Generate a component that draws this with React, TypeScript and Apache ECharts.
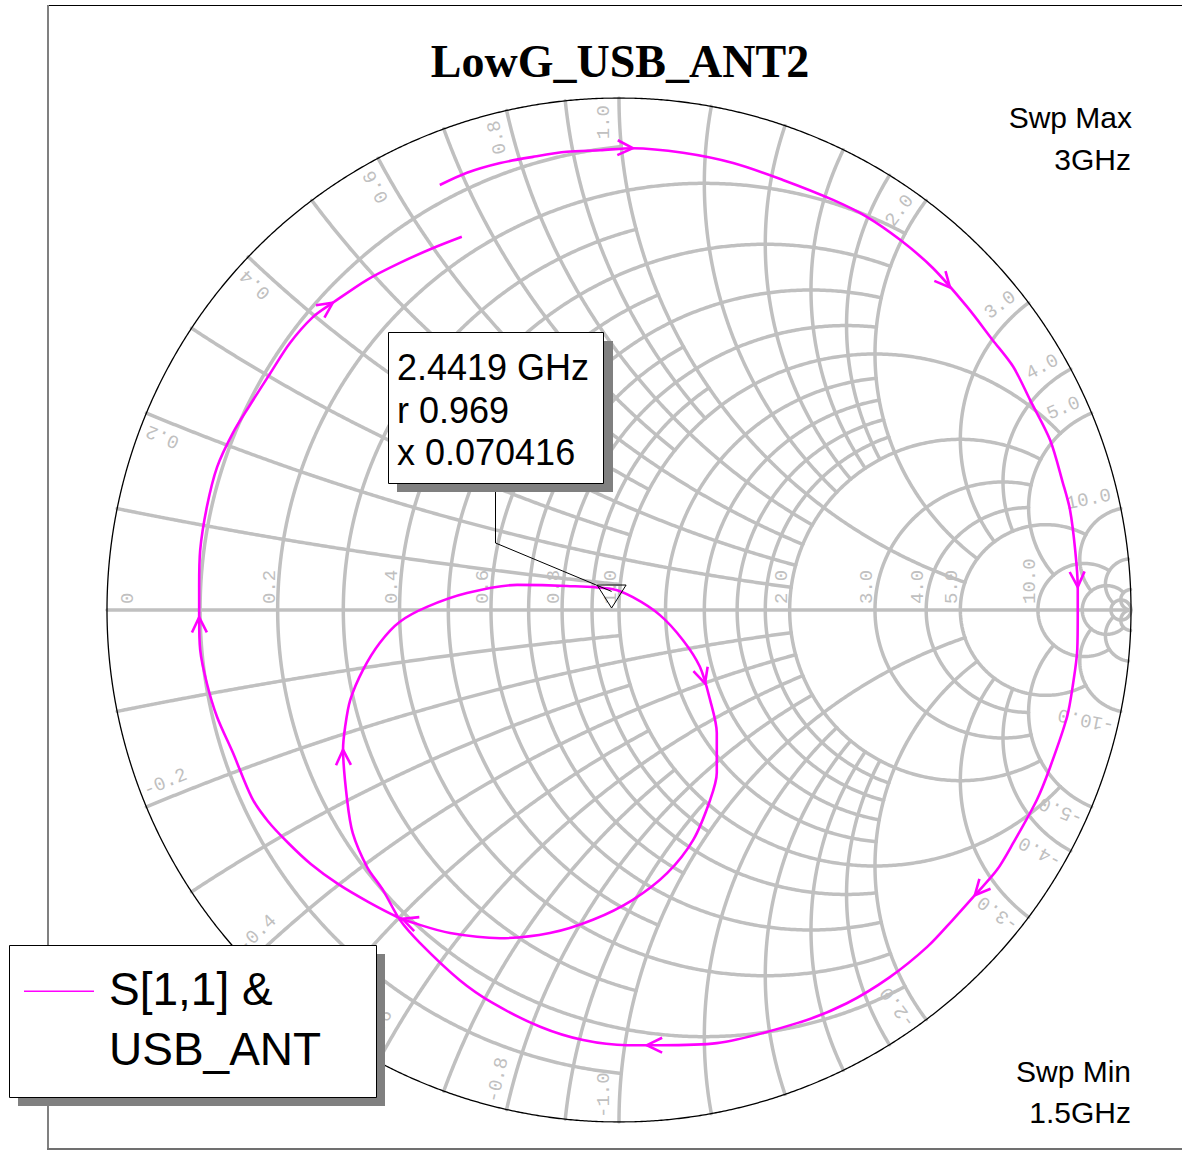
import React, { useEffect, useRef } from "react";
import * as echarts from "echarts";

// S11 trace (reflection coefficient, real / imaginary), sweep 1.5 GHz -> 3 GHz
const S11_RE = [
  -0.350, -0.297, -0.232, -0.168, -0.102, -0.037, 0.027, 0.125, 0.223, 0.320,
  0.418, 0.484, 0.549, 0.613, 0.680, 0.730, 0.770, 0.803, 0.842, 0.867,
  0.881, 0.891, 0.896, 0.896, 0.895, 0.887, 0.875, 0.842, 0.816, 0.770,
  0.738, 0.695, 0.652, 0.602, 0.529, 0.445, 0.354, 0.191, 0.080, 0.016,
  -0.070, -0.154, -0.246, -0.311, -0.389, -0.428, -0.461, -0.492, -0.520, -0.531,
  -0.539, -0.535, -0.525, -0.500, -0.467, -0.428, -0.375, -0.297, -0.199, -0.102,
  -0.014, 0.027, 0.080, 0.125, 0.158, 0.178, 0.191, 0.191, 0.178, 0.145,
  0.094, 0.027, -0.051, -0.135, -0.232, -0.330, -0.402, -0.432, -0.490, -0.549,
  -0.602, -0.646, -0.686, -0.717, -0.754, -0.785, -0.805, -0.818, -0.820, -0.820,
  -0.818, -0.805, -0.785, -0.754, -0.721, -0.682, -0.643, -0.598, -0.559, -0.492,
  -0.428, -0.363, -0.307,
];
const S11_IM = [
  0.830, 0.854, 0.873, 0.885, 0.895, 0.898, 0.902, 0.893, 0.873, 0.840,
  0.801, 0.768, 0.723, 0.668, 0.592, 0.527, 0.475, 0.410, 0.332, 0.248,
  0.195, 0.117, 0.045, -0.006, -0.078, -0.143, -0.209, -0.307, -0.371, -0.455,
  -0.508, -0.557, -0.605, -0.658, -0.717, -0.768, -0.805, -0.846, -0.850, -0.850,
  -0.840, -0.814, -0.768, -0.723, -0.650, -0.605, -0.547, -0.502, -0.436, -0.371,
  -0.273, -0.229, -0.176, -0.117, -0.064, -0.023, 0.006, 0.033, 0.049, 0.047,
  0.041, 0.025, -0.010, -0.059, -0.111, -0.176, -0.240, -0.318, -0.371, -0.449,
  -0.514, -0.566, -0.605, -0.631, -0.641, -0.631, -0.611, -0.600, -0.570, -0.535,
  -0.496, -0.455, -0.412, -0.367, -0.279, -0.209, -0.143, -0.078, -0.014, 0.045,
  0.117, 0.201, 0.279, 0.346, 0.400, 0.461, 0.521, 0.572, 0.600, 0.645,
  0.678, 0.707, 0.729,
];

// positions (fractional point index along the trace) of the direction arrows
const ARROW_POS = [6, 13.5, 22, 31, 38.4, 50, 64.5, 76.7, 88, 98];

// marker
const MARKER_FREQ = "2.4419 GHz";
const MARKER_R = 0.969;
const MARKER_X = 0.070416;

// Smith grid: normalized values and how far each line runs (|x| limit for r circles, r limit for x arcs)
const GRID_VALUES = [0.1, 0.2, 0.3, 0.4, 0.5, 0.6, 0.7, 0.8, 0.9, 1, 1.2, 1.4, 1.6, 1.8, 2, 3, 4, 5, 10, 20, 50];
const GRID_LIMITS = [1, 2, 1, 2, 1, 2, 1, 2, 1, 5, 2, 2, 2, 2, 5, 5, 5, 10, 20, 50, Infinity];

// grid labels
const REAL_LABEL_VALUES = [0, 0.2, 0.4, 0.6, 0.8, 1, 2, 3, 4, 5, 10];
const REAL_LABEL_TEXT = ["0", "0.2", "0.4", "0.6", "0.8", "1.0", "2.0", "3.0", "4.0", "5.0", "10.0"];
const RIM_LABEL_VALUES = [0.2, 0.4, 0.6, 0.8, 1, 2, 3, 4, 5, 10];
const RIM_LABEL_TEXT = ["0.2", "0.4", "0.6", "0.8", "1.0", "2.0", "3.0", "4.0", "5.0", "10.0"];

const TITLE = "LowG_USB_ANT2";
const LEGEND_TEXT = ["S[1,1] &", "USB_ANT"];
const SWEEP_MAX = ["Swp Max", "3GHz"];
const SWEEP_MIN = ["Swp Min", "1.5GHz"];

const GRID_COLOR = "#c0c0c0";
const TRACE_COLOR = "#ff00ff";

function gammaOf(r: number, x: number): number[] {
  const d = (r + 1) * (r + 1) + x * x;
  return [(r * r + x * x - 1) / d, (2 * x) / d];
}

function resistanceCircle(r: number, lim: number): number[][] {
  const c = r / (1 + r);
  const rho = 1 / (1 + r);
  let t0 = 0;
  if (isFinite(lim)) {
    const p = gammaOf(r, lim);
    t0 = Math.atan2(p[1], p[0] - c);
  }
  const span = 2 * Math.PI - 2 * t0;
  const n = Math.max(16, Math.ceil(span * rho * 260));
  const pts: number[][] = [];
  for (let i = 0; i <= n; i++) {
    const t = t0 + (span * i) / n;
    pts.push([c + rho * Math.cos(t), rho * Math.sin(t)]);
  }
  return pts;
}

function reactanceArc(x: number, lim: number): number[][] {
  const cx = 1;
  const cy = 1 / x;
  const rho = 1 / x;
  const norm = (a: number) => (a < 0 ? a + 2 * Math.PI : a);
  const A = gammaOf(0, x);
  const B = isFinite(lim) ? gammaOf(lim, x) : [1, 0];
  const a0 = norm(Math.atan2(A[1] - cy, A[0] - cx));
  const a1 = norm(Math.atan2(B[1] - cy, B[0] - cx));
  const span = a1 - a0;
  const n = Math.max(12, Math.ceil(Math.abs(span) * rho * 260));
  const pts: number[][] = [];
  for (let i = 0; i <= n; i++) {
    const t = a0 + (span * i) / n;
    pts.push([cx + rho * Math.cos(t), cy + rho * Math.sin(t)]);
  }
  return pts;
}

type LabelItem = { kind: "real" | "pos" | "neg"; value: number; text: string; g: number[] };

const LABEL_ITEMS: LabelItem[] = [
  ...REAL_LABEL_VALUES.map((v, i) => ({ kind: "real" as const, value: v, text: REAL_LABEL_TEXT[i], g: gammaOf(v, 0) })),
  ...RIM_LABEL_VALUES.map((v, i) => ({ kind: "pos" as const, value: v, text: RIM_LABEL_TEXT[i], g: gammaOf(0, v) })),
  ...RIM_LABEL_VALUES.map((v, i) => ({ kind: "neg" as const, value: -v, text: "-" + RIM_LABEL_TEXT[i], g: gammaOf(0, -v) })),
];

function buildOption(): any {
  const series: any[] = [];
  const addLine = (pts: number[][], color: string, width: number, z: number) => {
    series.push({
      type: "line",
      data: pts,
      symbol: "none",
      showSymbol: false,
      silent: true,
      animation: false,
      z,
      emphasis: { disabled: true },
      lineStyle: { color, width, cap: "round", join: "round" },
    });
  };

  GRID_VALUES.forEach((v, i) => {
    addLine(resistanceCircle(v, GRID_LIMITS[i]), GRID_COLOR, 3.5, 1);
    const arc = reactanceArc(v, GRID_LIMITS[i]);
    addLine(arc, GRID_COLOR, 3.5, 1);
    addLine(arc.map((p) => [p[0], -p[1]]), GRID_COLOR, 3.5, 1);
  });
  addLine([[-1, 0], [1, 0]], GRID_COLOR, 3.5, 1);
  addLine(resistanceCircle(0, Infinity), "#000000", 1.3, 2);

  // grid labels
  series.push({
    type: "custom",
    silent: true,
    z: 3,
    data: LABEL_ITEMS.map((it) => it.g),
    renderItem: (params: any, api: any) => {
      const it = LABEL_ITEMS[params.dataIndex];
      const c = api.coord([0, 0]);
      const p = api.coord(it.g);
      let dx = 0, dy = -1, ax = 0, ay = 0;
      let align = "left";
      if (it.kind === "real") {
        const off = it.value === 0 ? -21 : 8;
        ax = p[0] - off;
        ay = p[1] - 6;
      } else {
        let rx = p[0] - c[0];
        let ry = p[1] - c[1];
        const L = Math.hypot(rx, ry);
        rx /= L;
        ry /= L;
        let inset = 7;
        if (it.kind === "pos") {
          dx = rx; dy = ry; align = "right"; inset = 7;
        } else {
          dx = -rx; dy = -ry; align = "left"; inset = 4;
        }
        const ux = dy, uy = -dx;
        ax = p[0] - rx * inset + ux * 15;
        ay = p[1] - ry * inset + uy * 15;
      }
      return {
        type: "text",
        x: ax,
        y: ay,
        rotation: Math.atan2(-dy, dx),
        style: {
          text: it.text,
          fill: GRID_COLOR,
          font: '19px "Liberation Mono"',
          align,
          verticalAlign: "middle",
        },
      };
    },
  });

  // trace
  series.push({
    type: "line",
    name: "S[1,1] & USB_ANT",
    data: S11_RE.map((v, i) => [v, S11_IM[i]]),
    smooth: 0.3,
    symbol: "none",
    showSymbol: false,
    silent: true,
    z: 10,
    lineStyle: { color: TRACE_COLOR, width: 2.6 },
  });

  // direction arrows
  series.push({
    type: "custom",
    silent: true,
    z: 11,
    data: ARROW_POS.map((a) => {
      const i = Math.floor(a);
      const f = a - i;
      const j = Math.min(i + 1, S11_RE.length - 1);
      return [S11_RE[i] + (S11_RE[j] - S11_RE[i]) * f, S11_IM[i] + (S11_IM[j] - S11_IM[i]) * f];
    }),
    renderItem: (params: any, api: any) => {
      const a = ARROW_POS[params.dataIndex];
      const i = Math.floor(a);
      const f = a - i;
      const n = S11_RE.length;
      const tip = api.coord([api.value(0), api.value(1)]);
      let pa, pb;
      if (f === 0) {
        pa = api.coord([S11_RE[Math.max(i - 1, 0)], S11_IM[Math.max(i - 1, 0)]]);
        pb = api.coord([S11_RE[Math.min(i + 1, n - 1)], S11_IM[Math.min(i + 1, n - 1)]]);
      } else {
        pa = api.coord([S11_RE[i], S11_IM[i]]);
        pb = api.coord([S11_RE[i + 1], S11_IM[i + 1]]);
      }
      let vx = pb[0] - pa[0];
      let vy = pb[1] - pa[1];
      const L = Math.hypot(vx, vy) || 1;
      vx /= L;
      vy /= L;
      const len = 17;
      const ang = (26 * Math.PI) / 180;
      const bx = -vx, by = -vy;
      const w1 = [tip[0] + len * (bx * Math.cos(ang) - by * Math.sin(ang)), tip[1] + len * (bx * Math.sin(ang) + by * Math.cos(ang))];
      const w2 = [tip[0] + len * (bx * Math.cos(-ang) - by * Math.sin(-ang)), tip[1] + len * (bx * Math.sin(-ang) + by * Math.cos(-ang))];
      return {
        type: "polyline",
        shape: { points: [w1, tip, w2] },
        style: { stroke: TRACE_COLOR, lineWidth: 2.6, fill: "none" },
      };
    },
  });

  // marker
  series.push({
    type: "custom",
    silent: true,
    z: 12,
    data: [gammaOf(MARKER_R, MARKER_X)],
    renderItem: (params: any, api: any) => {
      const p = api.coord([api.value(0), api.value(1)]);
      return {
        type: "group",
        children: [
          {
            type: "polyline",
            shape: { points: [[495.5, 483], [495.5, 543], p] },
            style: { stroke: "#000000", lineWidth: 1, fill: "none" },
          },
          {
            type: "polygon",
            shape: { points: [[p[0] - 14.5, p[1] - 6.4], [p[0] + 14.5, p[1] - 6.4], [p[0], p[1] + 16.6]] },
            style: { stroke: "#000000", lineWidth: 1, fill: "none" },
          },
        ],
      };
    },
  });

  const sans = '"Liberation Sans", Arial, sans-serif';
  const graphic: any[] = [
    { type: "line", z: 40, shape: { x1: 48, y1: 5.5, x2: 1182, y2: 5.5 }, style: { stroke: "#000000", lineWidth: 1 } },
    { type: "line", z: 40, shape: { x1: 48, y1: 5, x2: 48, y2: 1149 }, style: { stroke: "#808080", lineWidth: 2 } },
    { type: "line", z: 40, shape: { x1: 47, y1: 1149, x2: 1182, y2: 1149 }, style: { stroke: "#707070", lineWidth: 2 } },
    {
      type: "text", z: 50, x: 620, y: 61,
      style: { text: TITLE, font: 'bold 46px "Liberation Serif", "Times New Roman", serif', fill: "#000000", align: "center", verticalAlign: "middle" },
    },
    { type: "text", z: 50, x: 1132, y: 117.5, style: { text: SWEEP_MAX[0], font: "30px " + sans, fill: "#000", align: "right", verticalAlign: "middle" } },
    { type: "text", z: 50, x: 1131, y: 159.5, style: { text: SWEEP_MAX[1], font: "30px " + sans, fill: "#000", align: "right", verticalAlign: "middle" } },
    { type: "text", z: 50, x: 1131, y: 1071.5, style: { text: SWEEP_MIN[0], font: "30px " + sans, fill: "#000", align: "right", verticalAlign: "middle" } },
    { type: "text", z: 50, x: 1131, y: 1112.5, style: { text: SWEEP_MIN[1], font: "30px " + sans, fill: "#000", align: "right", verticalAlign: "middle" } },
    // marker box
    { type: "rect", z: 60, shape: { x: 397, y: 341, width: 216, height: 151 }, style: { fill: "#808080" } },
    { type: "rect", z: 61, shape: { x: 388.5, y: 332.5, width: 215, height: 151 }, style: { fill: "#ffffff", stroke: "#000000", lineWidth: 1 } },
    { type: "text", z: 62, x: 397, y: 367.5, style: { text: MARKER_FREQ, font: "36px " + sans, fill: "#000", align: "left", verticalAlign: "middle" } },
    { type: "text", z: 62, x: 397, y: 410, style: { text: "r " + MARKER_R, font: "36px " + sans, fill: "#000", align: "left", verticalAlign: "middle" } },
    { type: "text", z: 62, x: 397, y: 452.5, style: { text: "x " + MARKER_X, font: "36px " + sans, fill: "#000", align: "left", verticalAlign: "middle" } },
    // legend box
    { type: "rect", z: 60, shape: { x: 18, y: 954, width: 367, height: 152 }, style: { fill: "#808080" } },
    { type: "rect", z: 61, shape: { x: 9.5, y: 945.5, width: 367, height: 152 }, style: { fill: "#ffffff", stroke: "#000000", lineWidth: 1 } },
    { type: "rect", z: 62, shape: { x: 24, y: 990.5, width: 70, height: 1.5 }, style: { fill: TRACE_COLOR } },
    { type: "text", z: 62, x: 109, y: 989, style: { text: LEGEND_TEXT[0], font: "46px " + sans, fill: "#000", align: "left", verticalAlign: "middle" } },
    { type: "text", z: 62, x: 109, y: 1049, style: { text: LEGEND_TEXT[1], font: "46px " + sans, fill: "#000", align: "left", verticalAlign: "middle" } },
  ];

  return {
    animation: false,
    backgroundColor: "#ffffff",
    grid: { left: 107, top: 98, width: 1024, height: 1024, containLabel: false },
    xAxis: { type: "value", min: -1, max: 1, show: false },
    yAxis: { type: "value", min: -1, max: 1, show: false },
    tooltip: { show: false },
    graphic,
    series,
  };
}

export default function App() {
  const ref = useRef<HTMLDivElement | null>(null);
  useEffect(() => {
    if (!ref.current) return;
    const chart = echarts.init(ref.current, null, { renderer: "svg" });
    chart.setOption(buildOption());
    return () => chart.dispose();
  }, []);
  return (
    <div
      ref={ref}
      style={{ position: "absolute", left: 0, top: 0, width: 1182, height: 1151, background: "#ffffff" }}
    />
  );
}
